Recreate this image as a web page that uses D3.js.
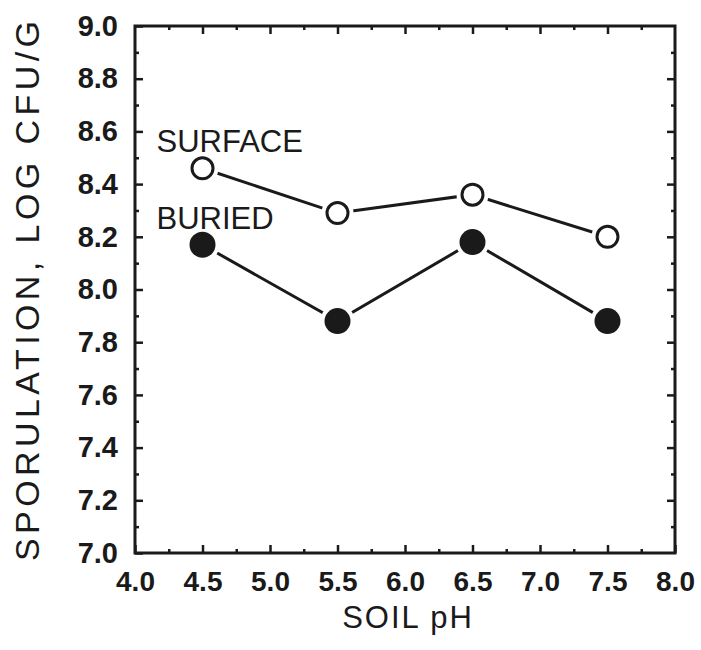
<!DOCTYPE html>
<html>
<head>
<meta charset="utf-8">
<script src="https://cdn.jsdelivr.net/npm/d3@7"></script>
<style>
  body { margin: 0; background: #fff; }
  svg text { font-family: "Liberation Sans", Arial, sans-serif; fill: #1a1a1a; }
</style>
</head>
<body>
<div id="master"></div>
<script>
// data
let soilPh = [4.5, 5.5, 6.5, 7.5]
let surface = [8.46, 8.29, 8.36, 8.20]
let buried = [8.17, 7.88, 8.18, 7.88]
let xTicks = [4.0, 4.5, 5.0, 5.5, 6.0, 6.5, 7.0, 7.5, 8.0]
let yTicks = [7.0, 7.2, 7.4, 7.6, 7.8, 8.0, 8.2, 8.4, 8.6, 8.8, 9.0]

let w = 701, h = 650
let margin = { left: 135, right: 26, top: 26, bottom: 97 }
let ink = "#1a1a1a"

let svg = d3.select("#master").append("svg").attr("width", w).attr("height", h)

let xScale = d3.scaleLinear().domain([4, 8]).range([margin.left, w - margin.right])
let yScale = d3.scaleLinear().domain([7, 9]).range([h - margin.bottom, margin.top])

let minorX = d3.range(4, 8.001, 0.25).filter(v => Math.abs(v * 2 - Math.round(v * 2)) > 0.01)
let minorY = d3.range(7, 9.001, 0.1).filter(v => Math.abs(v * 5 - Math.round(v * 5)) > 0.01)

const fmt = d3.format(".1f")
let bottomY = h - margin.bottom, topY = margin.top
let leftX = margin.left, rightX = w - margin.right

// axes, ticks pointing inward on all four sides
function addAxis(axis, tx, ty, labels) {
  let g = svg.append("g").attr("transform", `translate(${tx},${ty})`).call(axis)
  g.select(".domain").remove()
  g.selectAll(".tick line").attr("stroke", ink).attr("stroke-width", 2.5)
  if (!labels) g.selectAll(".tick text").remove()
  return g
}

let xb = addAxis(d3.axisBottom(xScale).tickValues(xTicks).tickFormat(fmt).tickSize(-8).tickPadding(18), 0, bottomY, true)
xb.selectAll(".tick text").attr("font-size", 28).attr("font-weight", "bold").attr("dy", "0.72em")
addAxis(d3.axisBottom(xScale).tickValues(minorX).tickSize(-4), 0, bottomY, false)
addAxis(d3.axisTop(xScale).tickValues(xTicks.slice(1, -1)).tickSize(-8), 0, topY, false)
addAxis(d3.axisTop(xScale).tickValues(minorX).tickSize(-4), 0, topY, false)

let yl = addAxis(d3.axisLeft(yScale).tickValues(yTicks).tickFormat(fmt).tickSize(-8).tickPadding(17), leftX, 0, true)
yl.selectAll(".tick text").attr("font-size", 29).attr("font-weight", "bold")
addAxis(d3.axisLeft(yScale).tickValues(minorY).tickSize(-4), leftX, 0, false)
addAxis(d3.axisRight(yScale).tickValues(yTicks.slice(1, -1)).tickSize(-8), rightX, 0, false)
addAxis(d3.axisRight(yScale).tickValues(minorY).tickSize(-4), rightX, 0, false)

svg.selectAll(".tick text").attr("fill", ink)

// frame
svg.append("rect")
  .attr("x", leftX).attr("y", topY)
  .attr("width", rightX - leftX).attr("height", bottomY - topY)
  .attr("fill", "none").attr("stroke", ink).attr("stroke-width", 3)

// axis titles
svg.append("text")
  .attr("x", (leftX + rightX) / 2 + 3).attr("y", 628)
  .attr("text-anchor", "middle").attr("font-size", 31).attr("letter-spacing", 2)
  .text("SOIL pH")

svg.append("text")
  .attr("transform", `translate(39,${(bottomY + 15) / 2 + 7}) rotate(-90)`)
  .attr("text-anchor", "middle").attr("font-size", 34)
  .attr("textLength", 540).attr("lengthAdjust", "spacing")
  .text("SPORULATION, LOG CFU/G")

// series
let series = [
  { name: "SURFACE", values: surface, open: true },
  { name: "BURIED", values: buried, open: false }
]
let line = d3.line().x(d => xScale(d[0])).y(d => yScale(d[1]))

series.forEach(s => {
  let pts = soilPh.map((p, i) => [p, s.values[i]])
  svg.append("path").attr("d", line(pts))
    .attr("fill", "none").attr("stroke", ink).attr("stroke-width", 3)
  // white halo leaves a small gap between line and marker
  svg.selectAll(null).data(pts).enter().append("circle")
    .attr("cx", d => xScale(d[0])).attr("cy", d => yScale(d[1]))
    .attr("r", s.open ? 16 : 17).attr("fill", "#fff")
  svg.selectAll(null).data(pts).enter().append("circle")
    .attr("cx", d => xScale(d[0])).attr("cy", d => yScale(d[1]))
    .attr("r", s.open ? 10.5 : 13)
    .attr("fill", s.open ? "#fff" : ink)
    .attr("stroke", s.open ? ink : "none").attr("stroke-width", 3)
})

// series labels next to the first point
svg.append("text")
  .attr("x", xScale(soilPh[0]) - 46).attr("y", yScale(surface[0]) - 16)
  .attr("font-size", 31).text("SURFACE")
svg.append("text")
  .attr("x", xScale(soilPh[0]) - 46).attr("y", yScale(buried[0]) - 16)
  .attr("font-size", 31).text("BURIED")
</script>
</body>
</html>
